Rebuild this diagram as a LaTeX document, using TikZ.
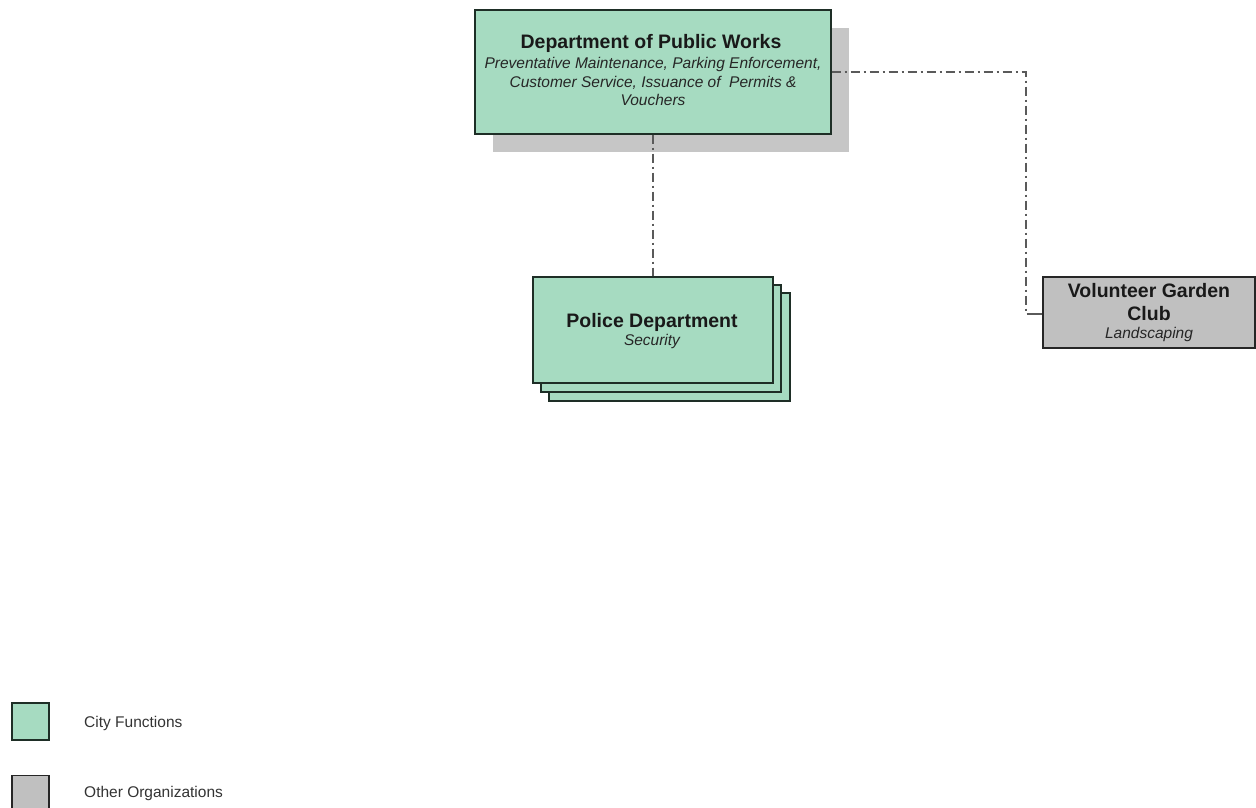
\documentclass[tikz,border=0pt]{standalone}
\usepackage{fontspec}
\setmainfont{Liberation Sans}
\definecolor{cityfill}{HTML}{A6DBC1}
\definecolor{cityline}{HTML}{1E2E26}
\definecolor{otherfill}{HTML}{C0C0C0}
\definecolor{shadowgray}{HTML}{C6C6C6}
\definecolor{linkgray}{HTML}{5A5A5A}
\newcommand{\titlefont}{\fontsize{19.5}{22}\selectfont\bfseries}
\newcommand{\subfont}{\fontsize{15.5}{18}\selectfont\itshape}
\tikzset{
  citybox/.style={draw=cityline, fill=cityfill, line width=1.3pt, inner sep=0pt},
  otherbox/.style={draw=black!85, fill=otherfill, line width=1.3pt, inner sep=0pt},
  link/.style={draw=linkgray, line width=1.4pt, dash pattern=on 9pt off 4pt on 2pt off 4pt},
  legtext/.style={anchor=base west, inner sep=0pt, font=\fontsize{15.5}{18}\selectfont, text=black!80},
  ttl/.style={anchor=base, inner sep=0pt, font=\titlefont, text=black!90},
  sub/.style={anchor=base, inner sep=0pt, font=\subfont, text=black!85},
}
\begin{document}
\begin{tikzpicture}[x=1pt,y=-1pt]
\useasboundingbox (0,0) rectangle (1256,808);
% DPW shadow
\fill[shadowgray] (493,28) rectangle (849,152);
\node[citybox, minimum width=356pt, minimum height=124pt] (dpw) at (653,72) {};
\node[ttl] (dpwt) at (651,49) {Department of Public Works};
\node[sub] (dpws1) at (653,69) {Preventative Maintenance, Parking Enforcement,};
\node[sub] (dpws2) at (653,87.5) {Customer Service, Issuance of~ Permits \&};
\node[sub] (dpws3) at (653,106) {Vouchers};
% Police stack
\fill[cityfill, draw=cityline, line width=1.3pt] (549,293) rectangle (790,401);
\fill[cityfill, draw=cityline, line width=1.3pt] (541,285) rectangle (781,392);
\node[citybox, minimum width=240pt, minimum height=106pt] (pd) at (653,330) {};
\node[ttl] (pdt) at (652,327) {Police Department};
\node[sub] (pds) at (652,345) {Security};
% Volunteer
\node[otherbox, minimum width=212pt, minimum height=71pt] (vg) at (1149,312.5) {};
\node[ttl] (vgt1) at (1149,297) {Volunteer Garden};
\node[ttl] (vgt2) at (1149,320) {Club};
\node[sub] (vgs) at (1149,338) {Landscaping};
% Links
\coordinate (c1) at (1026,72);
\coordinate (c2) at (1026,314);
\coordinate (c3) at (1035,314);
\draw[link] (dpw.south) -- (pd.north);
\draw[link] (dpw.east) -- (c1) -- (c2) -- (c3);
\draw[draw=linkgray, line width=1.4pt] (c3) -- (vg.west |- c3);
% Legend
\node[citybox, minimum width=37pt, minimum height=37pt] (lg1) at (30.5,721.5) {};
\node[otherbox, minimum width=37pt, minimum height=37pt] (lg2) at (30.5,794) {};
\node[legtext] (lt1) at (84,727) {City Functions};
\node[legtext] (lt2) at (84,797) {Other Organizations};
\end{tikzpicture}
\end{document}
